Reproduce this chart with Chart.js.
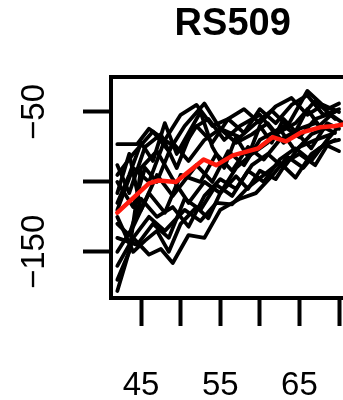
<!DOCTYPE html>
<html>
<head>
<meta charset="utf-8">
<script src="https://cdn.jsdelivr.net/npm/chart.js@4"></script>
<style>
  body { margin: 0; overflow: hidden; background: #fff; }
  #wrap { width: 380px; height: 400px; }
</style>
</head>
<body>
<div id="wrap"><canvas id="c" width="380" height="400"></canvas></div>
<script>
const title = 'RS509'

// ages (x) and values (y) per subject
const ages = [
  [42, 44.5, 46, 48, 50, 52, 54, 56, 58, 60, 62, 64, 66, 68, 70],
  [42, 44, 46.5, 48.5, 50.5, 53, 55, 57.5, 59.5, 61.5, 63.5, 66, 68.5, 70],
  [42, 43.5, 45.5, 47.5, 49.5, 51.5, 53.5, 55.5, 57.5, 60, 62, 64.5, 67, 69.5],
  [42, 44, 45.5, 47, 49, 51, 53, 55, 57, 59, 61, 63, 65, 67, 69.5],
  [42, 43.5, 45, 47, 49, 52, 54, 56, 58, 60, 62.5, 64.5, 66.5, 69],
  [42, 43.5, 45, 47, 49, 51, 53, 55, 57, 59, 61, 63, 65, 67, 69],
  [42, 44, 46, 48, 50, 52.5, 54.5, 56.5, 58.5, 60.5, 62.5, 64.5, 66.5, 68.5, 70],
  [42, 44, 46, 47.5, 49, 51, 53, 55, 57.5, 59.5, 61.5, 63.5, 65.5, 67.5, 69.5],
  [42, 44, 46, 48, 50.5, 52.5, 54.5, 56.5, 58.5, 60.5, 62.5, 64.5, 66.5, 68.5, 70],
  [42, 43.5, 45, 47, 49, 51, 53, 55, 57, 59, 61, 63, 65, 67, 69.5],
  [42, 44, 46, 48, 50, 52, 54, 56, 58, 60, 62, 64, 66, 68, 70],
  [42, 44.5, 46.5, 48.5, 50.5, 52.5, 54.5, 56.5, 58.5, 60.5, 62.5, 64.5, 66.5, 68.5, 70],
  [42, 43.5, 45, 46.5, 48, 49.5, 51, 52.5, 54, 55.5, 57, 58.5, 60, 61.5, 63, 64.5, 66, 67.5, 69, 70.5],
  [42, 44, 45.5, 47, 48.5, 50, 52, 53.5, 55, 57, 58.5, 60, 62, 63.5, 65, 67, 68.5, 70]
]
const values = [
  [-73, -73, -62, -70, -52, -45, -60, -55, -48, -58, -46, -40, -52, -45, -50],
  [-95, -80, -64, -78, -60, -44, -62, -68, -58, -49, -60, -35, -48, -44],
  [-88, -108, -75, -66, -90, -62, -55, -70, -60, -52, -66, -58, -42, -55],
  [-100, -118, -90, -100, -72, -85, -70, -62, -72, -66, -58, -72, -62, -58, -65],
  [-108, -80, -120, -95, -110, -88, -100, -78, -88, -70, -62, -78, -66, -60],
  [-130, -138, -112, -125, -118, -132, -110, -98, -105, -88, -80, -90, -75, -70, -66],
  [-150, -132, -108, -122, -95, -100, -80, -92, -75, -84, -70, -64, -76, -58, -62],
  [-160, -140, -152, -148, -158, -138, -140, -120, -112, -108, -96, -82, -90, -76, -70],
  [-178, -140, -125, -135, -120, -128, -115, -116, -104, -95, -86, -97, -80, -72, -70],
  [-170, -150, -90, -78, -98, -115, -100, -108, -90, -80, -72, -60, -68, -55, -50],
  [-120, -90, -100, -70, -78, -60, -72, -55, -65, -48, -58, -45, -38, -52, -48],
  [-140, -145, -130, -140, -112, -120, -102, -110, -92, -100, -84, -76, -85, -70, -60],
  [-115, -95, -72, -85, -58, -80, -65, -50, -75, -90, -68, -82, -60, -72, -55, -64, -48, -60, -52, -58],
  [-125, -150, -142, -135, -150, -130, -118, -126, -108, -96, -105, -92, -98, -85, -80, -88, -74, -78]
]
const meanAges = [42, 46, 47.2, 49.4, 52.9, 54.5, 56.6, 59.8, 61.6, 63.3, 65.1, 67.6, 69.5, 70.5]
const meanValues = [-122, -101, -99, -100, -84, -88, -81, -76, -68, -71, -65, -61, -60, -59]

const xTicks = [45, 50, 55, 60, 65, 70]
const xTickLabels = ['45', '', '55', '', '65', '']
const yTicks = [-50, -100, -150]
const yTickLabels = ['\u221250', '', '\u2212150']

const font = "'Liberation Sans', Arial, Helvetica, sans-serif"

const toPoints = (xs, ys) => xs.map((x, i) => ({ x: x, y: ys[i] }))

// first dataset is drawn on top in chart.js, so the mean goes first
const datasets = [{
  data: toPoints(meanAges, meanValues),
  borderColor: '#ff1a0d',
  borderWidth: 4.5
}]
ages.forEach((a, i) => {
  datasets.push({
    data: toPoints(a, values[i]),
    borderColor: '#000',
    borderWidth: 3.8
  })
})

const boxPlugin = {
  id: 'box',
  afterDatasetsDraw(chart) {
    const { ctx, chartArea } = chart
    ctx.save()
    ctx.strokeStyle = '#000'
    ctx.lineWidth = 4
    ctx.strokeRect(chartArea.left, chartArea.top, chartArea.right - chartArea.left, chartArea.bottom - chartArea.top)
    ctx.restore()
  },
  afterDraw(chart) {
    const { ctx, chartArea } = chart
    const y = chart.scales.y
    ctx.save()
    ctx.fillStyle = '#000'
    // title centred over the plot box
    ctx.font = 'bold 38px ' + font
    ctx.textAlign = 'center'
    ctx.textBaseline = 'middle'
    ctx.fillText(title, (chartArea.left + chartArea.right) / 2 + 2, 25)
    // y labels are rotated like R's default
    ctx.font = '33px ' + font
    yTicks.forEach((v, i) => {
      if (!yTickLabels[i]) return
      ctx.save()
      ctx.translate(35, y.getPixelForValue(v))
      ctx.rotate(-Math.PI / 2)
      ctx.fillText(yTickLabels[i], 0, 0)
      ctx.restore()
    })
    ctx.restore()
  }
}

new Chart(document.getElementById('c'), {
  type: 'line',
  data: { datasets },
  options: {
    responsive: false,
    devicePixelRatio: 1,
    animation: false,
    layout: { padding: { top: 77, right: 21, left: 0, bottom: 0 } },
    elements: {
      point: { radius: 0 },
      line: { tension: 0, borderJoinStyle: 'round', borderCapStyle: 'round' }
    },
    plugins: { legend: { display: false }, tooltip: { enabled: false } },
    scales: {
      x: {
        type: 'linear',
        min: 41.2,
        max: 71.44,
        afterFit: s => { s.height = 102 },
        afterBuildTicks: s => { s.ticks = xTicks.map(v => ({ value: v })) },
        border: { display: false },
        grid: { drawOnChartArea: false, drawTicks: true, tickLength: 28, tickWidth: 4, tickColor: '#000' },
        ticks: {
          padding: 40,
          maxRotation: 0,
          autoSkip: false,
          color: '#000',
          font: { family: font, size: 33 },
          callback: (v) => xTickLabels[xTicks.indexOf(v)] || ''
        }
      },
      y: {
        type: 'linear',
        min: -183,
        max: -25,
        afterFit: s => { s.width = 111 },
        afterBuildTicks: s => { s.ticks = yTicks.map(v => ({ value: v })) },
        border: { display: false },
        grid: { drawOnChartArea: false, drawTicks: true, tickLength: 28, tickWidth: 4, tickColor: '#000' },
        ticks: { display: false }
      }
    }
  },
  plugins: [boxPlugin]
})
</script>
</body>
</html>
